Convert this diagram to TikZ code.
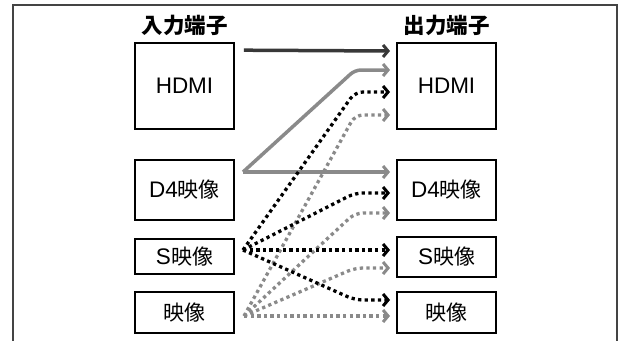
\documentclass[tikz,border=0pt]{standalone}
\usepackage{fontspec}
\setmainfont{Liberation Sans}
\newfontfamily\cjk{Noto Sans CJK JP}
\usetikzlibrary{arrows.meta}
\definecolor{framec}{HTML}{444444}
\definecolor{darkc}{HTML}{383838}
\definecolor{grayc}{HTML}{8A8A8A}
\tikzset{
  term/.style={draw=black, line width=1.6pt, minimum width=99pt, inner sep=0pt, font=\fontsize{22.5}{26}\selectfont},
  hdr/.style={font=\fontsize{21.5}{24}\selectfont\cjk\bfseries},
  tipc/.style={-{Straight Barb[length=5pt,width=12pt,line width=3pt]}},
  solidd/.style={tipc, line width=3.5pt, draw=darkc},
  solidg/.style={tipc, line width=3.5pt, draw=grayc, rounded corners=6pt},
  dotk/.style={tipc, line width=3.3pt, draw=black, dash pattern=on 3.3pt off 3.3pt, rounded corners=8pt},
  dotg/.style={tipc, line width=3.3pt, draw=grayc, dash pattern=on 3.3pt off 3.3pt, rounded corners=8pt},
}
\newcommand{\jp}[1]{{\cjk\fontsize{21}{24}\selectfont #1}}
\begin{document}
\begin{tikzpicture}[x=1pt,y=-1pt]
\useasboundingbox (0,0) rectangle (620,340);
\draw[framec, line width=1.5pt] (13,345) -- (13,5) -- (617,5) -- (617,345);
% input terminals
\node[hdr] (inT) at (184.5,25) {入力端子};
\node[term, minimum height=86pt] (inH) at (184.5,86) {HDMI};
\node[term, minimum height=60pt] (inD) at (184.5,190) {D4\jp{映像}};
\node[term, minimum height=35pt] (inS) at (184.5,256.5) {S\jp{映像}};
\node[term, minimum height=41pt] (inV) at (184.5,312.5) {\jp{映像}};
% output terminals
\node[hdr] (outT) at (446.5,25) {出力端子};
\node[term, minimum height=86pt] (outH) at (446.5,86) {HDMI};
\node[term, minimum height=60pt] (outD) at (446.5,190) {D4\jp{映像}};
\node[term, minimum height=40pt] (outS) at (446.5,257) {S\jp{映像}};
\node[term, minimum height=41pt] (outV) at (446.5,312.5) {\jp{映像}};
% start points
\coordinate (sH) at ([shift={(9,8)}]inH.north east);
\coordinate (sD) at (243,172);
\coordinate (sS) at (243,250);
\coordinate (sV) at (244,316);
% end points
\coordinate (eH1) at (390,51);
\coordinate (eH2) at (390,70);
\coordinate (eH3) at (390,92);
\coordinate (eH4) at (390,115);
\coordinate (eD1) at (390,172);
\coordinate (eD2) at (390,193);
\coordinate (eD3) at (390,213);
\coordinate (eS1) at (390,250);
\coordinate (eS2) at (390,268);
\coordinate (eV1) at (390,300);
\coordinate (eV2) at (390,316);
% connectors
\draw[solidd] (sH) -- (eH1);
\draw[solidg] (sD) -- (355,70) -- (eH2);
\draw[solidg] (sD) -- (eD1);
\draw[dotg] (sV) -- (355,115) -- (eH4);
\draw[dotg] (sV) -- (355,213) -- (eD3);
\draw[dotg] (sV) -- (355,268) -- (eS2);
\draw[dotg] (sV) -- (eV2);
\draw[dotk] (sS) -- (355,92) -- (eH3);
\draw[dotk] (sS) -- (355,193) -- (eD2);
\draw[dotk] (sS) -- (eS1);
\draw[dotk] (sS) -- (355,300) -- (eV1);
\end{tikzpicture}
\end{document}
